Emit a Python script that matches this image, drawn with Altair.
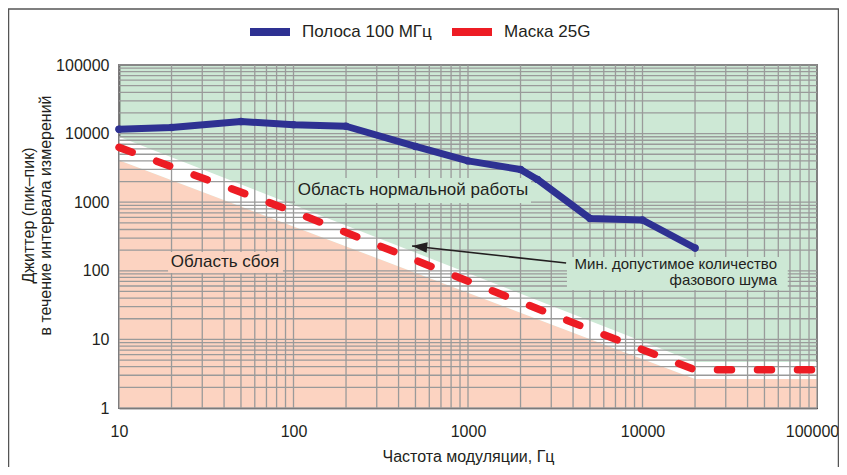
import altair as alt
import pandas as pd

# ---------------- data ----------------
blue_freq = [10, 20, 50, 100, 200, 500, 1000, 2000, 2500, 5000, 10000, 20000]
blue_jitter = [11600, 12300, 15000, 13500, 12800, 6500, 4000, 3000, 2150, 580, 550, 215]

mask_freq = [10, 100, 2000, 5000, 20000, 100000]
mask_jitter = [6300, 730, 35, 14, 3.6, 3.6]

band_freq = [10, 20000, 100000]
band_upper = [9000, 4.7, 4.7]
band_lower = [4100, 2.65, 2.65]

series_names = ["Полоса 100 МГц", "Маска 25G"]
series_colors = ["#2e3192", "#ed1c24"]

x_ticks = [10, 100, 1000, 10000, 100000]
y_ticks = [1, 10, 100, 1000, 10000, 100000]
mantissas = [1, 2, 3, 4, 5, 6, 7, 8, 9]

region_text = ["Область нормальной работы", "Область сбоя"]
region_x = [484, 40.5]
region_y = [1506, 134]
region_x1 = [102, 19.1]
region_x2 = [2296, 87]
region_y1 = [2253, 188]
region_y2 = [973, 92.9]
region_fill = ["#cde8d5", "#fcd3c1"]

note_lines = ["Мин. допустимое количество", "фазового шума"]
note_x = [59000]
note_y = [124]
note_box_x1 = [3690]
note_box_x2 = [68000]
note_box_y1 = [159]
note_box_y2 = [52.5]

arrow_tail = (3650, 130)
arrow_tip = (478, 230)

GREEN = "#cde8d5"
SALMON = "#fcd3c1"
FONT = "Liberation Sans"

# ---------------- frames ----------------
lines_df = pd.DataFrame(
    {"freq": blue_freq + mask_freq,
     "jitter": blue_jitter + mask_jitter,
     "series": [series_names[0]] * len(blue_freq) + [series_names[1]] * len(mask_freq)}
)
band_df = pd.DataFrame({"freq": band_freq, "upper": band_upper, "lower": band_lower})
grid_x = pd.DataFrame({"v": [d * m for d in x_ticks[:-1] for m in mantissas] + [x_ticks[-1]]})
grid_y = pd.DataFrame({"v": [d * m for d in y_ticks[:-1] for m in mantissas] + [y_ticks[-1]]})
region_df = pd.DataFrame({"text": region_text, "x": region_x, "y": region_y,
                          "x1": region_x1, "x2": region_x2, "y1": region_y1,
                          "y2": region_y2, "fill": region_fill})
note_df = pd.DataFrame({"x": note_x, "y": note_y, "x1": note_box_x1, "x2": note_box_x2,
                        "y1": note_box_y1, "y2": note_box_y2})
note_df["text"] = [note_lines]
arrow_df = pd.DataFrame({"x": [arrow_tail[0]], "y": [arrow_tail[1]],
                         "x2": [arrow_tip[0]], "y2": [arrow_tip[1]]})
frame_df = pd.DataFrame({"k": [0]})

xs = alt.Scale(type="log", domain=[10, 100000], nice=False)
ys = alt.Scale(type="log", domain=[1, 100000], nice=False)

xaxis = alt.Axis(values=x_ticks, format="d", title="Частота модуляции, Гц",
                 labelPadding=15, titlePadding=9, labelFlush=False,
                 labelOffset={"expr": "datum.value >= 100000 ? -5 : 0"})
yaxis = alt.Axis(values=y_ticks, format="d",
                 title=["Джиттер (пик–пик)", "в течение интервала измерений"],
                 labelPadding=10, titleX=-83, titleY=150, titleAngle=270,
                 titleBaseline="bottom", titleAlign="center", titleLineHeight=17)

salmon = alt.Chart(band_df).mark_area(color=SALMON, opacity=1).encode(
    x=alt.X("freq:Q", scale=xs, axis=xaxis),
    y=alt.Y("lower:Q", scale=ys, axis=yaxis),
    y2=alt.datum(1),
)
white = alt.Chart(band_df).mark_area(color="white", opacity=1).encode(
    x="freq:Q", y="upper:Q", y2="lower:Q"
)
vgrid = alt.Chart(grid_x).mark_rule(color="#9a9a9a", strokeWidth=1.3).encode(x="v:Q")
hgrid = alt.Chart(grid_y).mark_rule(color="#9a9a9a", strokeWidth=1.3).encode(y="v:Q")

region_boxes = alt.Chart(region_df).mark_rect().encode(
    x="x1:Q", x2="x2:Q", y="y1:Q", y2="y2:Q",
    fill=alt.Fill("fill:N", scale=None),
)
region_labels = alt.Chart(region_df).mark_text(
    font=FONT, fontSize=17, color="#231f20", align="center", baseline="middle"
).encode(x="x:Q", y="y:Q", text="text:N")

note_box = alt.Chart(note_df).mark_rect(color=GREEN).encode(
    x="x1:Q", x2="x2:Q", y="y1:Q", y2="y2:Q")
note_text = alt.Chart(note_df).mark_text(
    font=FONT, fontSize=15, color="#231f20", align="right", baseline="middle", lineHeight=16
).encode(x="x:Q", y="y:Q", text="text")

arrow_line = alt.Chart(arrow_df).mark_rule(color="#231f20", strokeWidth=1.6).encode(
    x="x:Q", y="y:Q", x2="x2:Q", y2="y2:Q")
arrow_head = alt.Chart(arrow_df).mark_point(
    shape="M0,0L2,-0.7L2,0.7Z", filled=True, color="#231f20", size=230, angle=6, opacity=1
).encode(x="x2:Q", y="y2:Q")

color_enc = alt.Color(
    "series:N",
    scale=alt.Scale(domain=series_names, range=series_colors),
    legend=alt.Legend(title=None, orient="none", legendX=127, legendY=-57,
                      direction="horizontal", symbolType="stroke", symbolStrokeWidth=8,
                      symbolSize=1600, labelFontSize=17, labelFont=FONT,
                      labelColor="#231f20", columnPadding=4, labelOffset=8,
                      gridAlign="none", symbolDash=[1, 0]),
)

blue_line = alt.Chart(lines_df).transform_filter(
    alt.datum.series == series_names[0]
).mark_line(strokeWidth=7, strokeCap="round", strokeJoin="round").encode(
    x="freq:Q", y="jitter:Q", color=color_enc)
blue_pts = alt.Chart(lines_df).transform_filter(
    alt.datum.series == series_names[0]
).mark_circle(size=55, opacity=1, color=series_colors[0]).encode(x="freq:Q", y="jitter:Q")
red_line = alt.Chart(lines_df).transform_filter(
    alt.datum.series == series_names[1]
).mark_line(strokeWidth=7.5, strokeCap="round", strokeJoin="round",
            strokeDash=[14, 26]).encode(x="freq:Q", y="jitter:Q", color=color_enc)

# outer picture frame (bottom edge falls outside the canvas, as in the reference)
frame = alt.Chart(frame_df).mark_rect(fillOpacity=0, stroke="#555555", strokeWidth=1.5).encode(
    x=alt.value(-110.5), x2=alt.value(719.5), y=alt.value(-56), y2=alt.value(420)
)

chart = alt.layer(
    salmon, white, vgrid, hgrid, region_boxes, region_labels, note_box, note_text,
    red_line, blue_line, blue_pts, arrow_line, arrow_head, frame
).properties(
    width=698, height=343,
    autosize=alt.AutoSizeParams(type="none"),
    padding={"left": 111, "top": 57, "right": 22, "bottom": 59},
).configure(font=FONT).configure_view(
    fill=GREEN, stroke="#231f20", strokeWidth=1.5
).configure_axis(
    grid=False, ticks=False, domainColor="#231f20", domainWidth=1.5,
    labelFont=FONT, labelFontSize=16, labelColor="#231f20",
    titleFont=FONT, titleFontSize=16, titleColor="#231f20", titleFontWeight="normal",
)

chart.save("out.html", embed_options={"renderer": "svg", "actions": False})
